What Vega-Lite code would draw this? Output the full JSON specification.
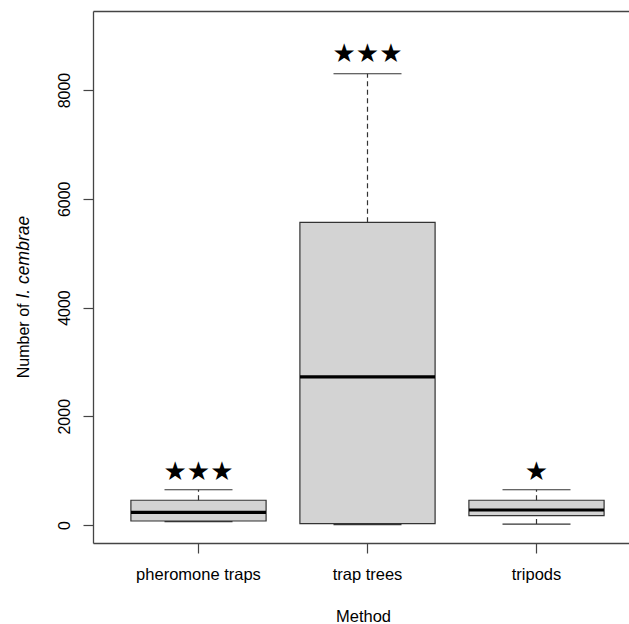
{
  "$schema": "https://vega.github.io/schema/vega-lite/v6.json",
  "autosize": {"type": "none"},
  "padding": {"left": 93, "top": 11, "right": 0, "bottom": 81},
  "width": 536,
  "height": 532,
  "background": "white",
  "config": {"view": {"stroke": null}},
  "data": {
    "values": [
      {"Method": "pheromone traps", "lower": 62, "Q1": 74, "median": 234, "Q3": 455, "upper": 648, "star_y": 979, "stars": "★★★"},
      {"Method": "trap trees", "lower": 7, "Q1": 26, "median": 2724, "Q3": 5567, "upper": 8300, "star_y": 8662, "stars": "★★★"},
      {"Method": "tripods", "lower": 18, "Q1": 173, "median": 276, "Q3": 455, "upper": 648, "star_y": 979, "stars": "★"}
    ]
  },
  "layer": [
    {
      "mark": {"type": "rect", "fill": "#d3d3d3", "stroke": "#333", "strokeWidth": 1.2},
      "encoding": {
        "x": {
          "field": "Method", "type": "nominal",
          "scale": {"type": "band", "domain": ["pheromone traps", "trap trees", "tripods"], "paddingInner": 0.2, "paddingOuter": 0.1858, "align": 0.6035},
          "axis": {
            "orient": "bottom", "title": "Method", "labelAngle": 0, "labelBaseline": "alphabetic", "labelPadding": 26,
            "tickSize": 10, "tickColor": "#444", "tickWidth": 1.2, "domainColor": "#444", "domainWidth": 1.3, "grid": false,
            "labelFont": "Liberation Sans", "labelFontSize": 16.5, "labelColor": "#000",
            "titleFont": "Liberation Sans", "titleFontSize": 16.5, "titleFontWeight": "normal", "titleColor": "#000",
            "titleBaseline": "alphabetic", "titleX": 270, "titleY": 78
          }
        },
        "y": {
          "field": "Q1", "type": "quantitative",
          "scale": {"domain": [-331, 9454], "nice": false, "zero": false},
          "axis": {
            "orient": "left", "title": "Number of", "values": [0, 2000, 4000, 6000, 8000], "format": "d",
            "labelAngle": -90, "labelAlign": "center", "labelBaseline": "alphabetic", "labelPadding": 14,
            "tickSize": 10, "tickColor": "#444", "tickWidth": 1.2, "domainColor": "#444", "domainWidth": 1.3, "grid": false,
            "labelFont": "Liberation Sans", "labelFontSize": 16, "labelColor": "#000", "labelFlush": false, "labelOverlap": false,
            "titleFont": "Liberation Sans", "titleFontSize": 16, "titleFontWeight": "normal", "titleColor": "#000",
            "titleAngle": -90, "titleAlign": "right", "titleBaseline": "alphabetic", "titleX": -65, "titleY": 292
          }
        },
        "y2": {"field": "Q3"}
      }
    },
    {
      "mark": {"type": "rule", "stroke": "#333", "strokeWidth": 1.2, "strokeDash": [5, 3.5]},
      "encoding": {
        "x": {
          "field": "Method", "type": "nominal", "scale": {"type": "band"},
          "axis": {"orient": "top", "labels": false, "ticks": false, "title": null, "domain": true, "domainColor": "#444", "domainWidth": 1.3, "grid": false}
        },
        "y": {
          "field": "Q3", "type": "quantitative",
          "axis": {
            "orient": "left", "title": "I. cembrae", "labels": false, "ticks": false, "domain": false, "grid": false,
            "titleFont": "Liberation Sans", "titleFontSize": 17.5, "titleFontWeight": "normal", "titleFontStyle": "italic", "titleColor": "#000",
            "titleAngle": -90, "titleAlign": "left", "titleBaseline": "alphabetic", "titleX": -65, "titleY": 287
          }
        },
        "y2": {"field": "upper"}
      }
    },
    {
      "mark": {"type": "rule", "stroke": "#333", "strokeWidth": 1.2, "strokeDash": [5, 3.5]},
      "encoding": {
        "x": {"field": "Method", "type": "nominal", "scale": {"type": "band"}, "axis": null},
        "y": {"field": "lower", "type": "quantitative", "axis": null},
        "y2": {"field": "Q1"}
      }
    },
    {
      "mark": {"type": "tick", "color": "#333", "size": 68, "thickness": 1.2, "opacity": 1},
      "encoding": {
        "x": {"field": "Method", "type": "nominal", "scale": {"type": "band"}, "axis": null},
        "y": {"field": "upper", "type": "quantitative", "axis": null}
      }
    },
    {
      "mark": {"type": "tick", "color": "#333", "size": 68, "thickness": 1.2, "opacity": 1},
      "encoding": {
        "x": {"field": "Method", "type": "nominal", "scale": {"type": "band"}, "axis": null},
        "y": {"field": "lower", "type": "quantitative", "axis": null}
      }
    },
    {
      "mark": {"type": "tick", "color": "#000", "size": 135, "thickness": 3.2, "opacity": 1},
      "encoding": {
        "x": {"field": "Method", "type": "nominal", "scale": {"type": "band"}, "axis": null},
        "y": {"field": "median", "type": "quantitative", "axis": null}
      }
    },
    {
      "mark": {"type": "text", "font": "DejaVu Sans", "fontSize": 26, "color": "#000", "baseline": "middle", "align": "center"},
      "encoding": {
        "x": {"field": "Method", "type": "nominal", "scale": {"type": "band"}, "axis": null},
        "y": {"field": "star_y", "type": "quantitative", "axis": null},
        "text": {"field": "stars"}
      }
    }
  ],
  "resolve": {"axis": {"x": "independent", "y": "independent"}}
}
